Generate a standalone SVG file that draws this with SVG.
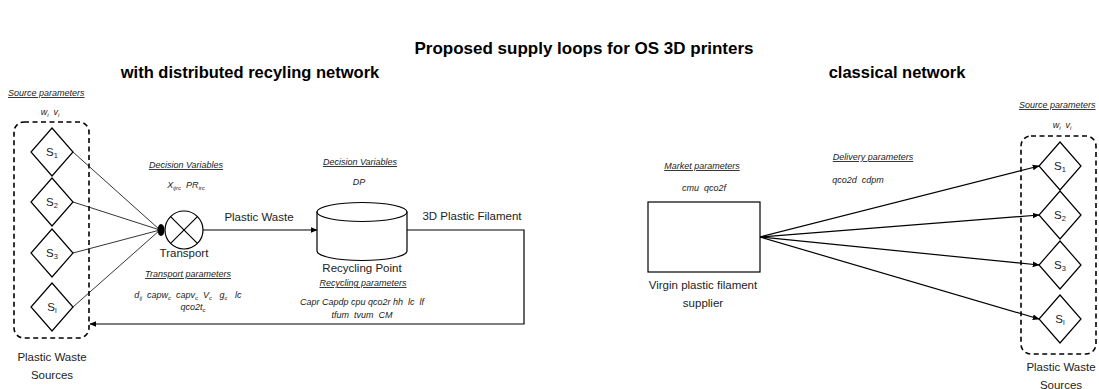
<svg xmlns="http://www.w3.org/2000/svg" width="1099" height="389" viewBox="0 0 1099 389">
<defs>
<marker id="arr" viewBox="0 0 10 10" refX="9" refY="5" markerWidth="7" markerHeight="7" orient="auto" markerUnits="userSpaceOnUse"><path d="M0,1 L10,5 L0,9 Z" fill="#000"/></marker>
<style>
text{font-family:"Liberation Sans",Arial,sans-serif;fill:#000}
.h1{font-size:17px;font-weight:bold;text-anchor:middle}
.h2{font-size:16.5px;font-weight:bold;text-anchor:middle}
.lab{font-size:11.5px;text-anchor:middle;fill:#222}
.it{font-size:9px;font-style:italic;text-anchor:middle;fill:#222;white-space:pre}
.ul{font-size:9px;font-style:italic;text-decoration:underline;text-anchor:middle;fill:#222}
.s{font-size:11.5px;text-anchor:middle;fill:#222}
.dia{fill:#fff;stroke:#000;stroke-width:1.2}
.box{fill:none;stroke:#000;stroke-width:1.6;stroke-dasharray:5,3.5}
.ln{fill:none;stroke:#000;stroke-width:0.8}
.ln2{fill:none;stroke:#000;stroke-width:1.2}
</style>
</defs>
<rect width="1099" height="389" fill="#fff"/>
<text class="h1" x="584" y="54">Proposed supply loops for OS 3D printers</text>
<text class="h2" x="250" y="78">with distributed recyling network</text>
<text class="h2" x="897" y="78">classical network</text>

<g id="left-sources">
<text class="ul" x="8" y="96" style="text-anchor:start">Source parameters</text>
<text class="it" x="50" y="115">w<tspan font-size="6" dy="1.5">i</tspan><tspan dy="-1.5">  v</tspan><tspan font-size="6" dy="1.5">i</tspan></text>
<rect class="box" x="14" y="122" width="75" height="216" rx="10"/>
<path class="dia" d="M52,128 L73,152 L52,176 L31,152 Z"/>
<text class="s" x="52" y="156">S<tspan font-size="7.5" dy="2">1</tspan></text>
<path class="dia" d="M52,178 L73,202 L52,226 L31,202 Z"/>
<text class="s" x="52" y="206">S<tspan font-size="7.5" dy="2">2</tspan></text>
<path class="dia" d="M52,229 L73,253 L52,277 L31,253 Z"/>
<text class="s" x="52" y="257">S<tspan font-size="7.5" dy="2">3</tspan></text>
<path class="dia" d="M52,283 L73,307 L52,331 L31,307 Z"/>
<text class="s" x="52" y="311">S<tspan font-size="7.5" dy="2">l</tspan></text>
<text class="lab" x="52" y="361">Plastic Waste</text>
<text class="lab" x="52" y="379">Sources</text>
</g>

<g id="connectors">
<line class="ln" x1="73" y1="152" x2="160" y2="230"/>
<line class="ln" x1="73" y1="202" x2="160" y2="230"/>
<line class="ln" x1="73" y1="253" x2="160" y2="230"/>
<line class="ln" x1="73" y1="307" x2="160" y2="230"/>
<ellipse cx="161" cy="230" rx="3.5" ry="6" fill="#000"/>
<line class="ln2" x1="203" y1="230" x2="317" y2="230" marker-end="url(#arr)"/>
<path class="ln2" d="M407,230 H524 V324 H90" marker-end="url(#arr)"/>
<line class="ln2" x1="760" y1="237" x2="1039" y2="166" marker-end="url(#arr)"/>
<line class="ln2" x1="760" y1="237" x2="1039" y2="215" marker-end="url(#arr)"/>
<line class="ln2" x1="760" y1="237" x2="1039" y2="265" marker-end="url(#arr)"/>
<line class="ln2" x1="760" y1="237" x2="1039" y2="319" marker-end="url(#arr)"/>
</g>

<g id="transport">
<text class="ul" x="186" y="168">Decision Variables</text>
<text class="it" x="186" y="188">X<tspan font-size="6" dy="1.5">ijrc</tspan><tspan dy="-1.5">  PR</tspan><tspan font-size="6" dy="1.5">irc</tspan></text>
<circle cx="184" cy="230" r="19" fill="#fff" stroke="#000" stroke-width="1.2"/>
<path class="ln2" d="M170.6,216.6 L197.4,243.4 M197.4,216.6 L170.6,243.4"/>
<text class="lab" x="184" y="257">Transport</text>
<text class="ul" x="188" y="277">Transport parameters</text>
<text class="it" x="188" y="298">d<tspan font-size="6" dy="1.5">ij</tspan><tspan dy="-1.5">  capw</tspan><tspan font-size="6" dy="1.5">c</tspan><tspan dy="-1.5">  capv</tspan><tspan font-size="6" dy="1.5">c</tspan><tspan dy="-1.5">  V</tspan><tspan font-size="6" dy="1.5">c</tspan><tspan dy="-1.5">   g</tspan><tspan font-size="6" dy="1.5">c</tspan><tspan dy="-1.5">   lc</tspan></text>
<text class="it" x="193" y="310">qco2t<tspan font-size="6" dy="1.5">c</tspan></text>
<text class="lab" x="259" y="221">Plastic Waste</text>
</g>

<g id="recycling-point">
<text class="ul" x="360" y="165">Decision Variables</text>
<text class="it" x="359" y="185">DP</text>
<path d="M317,212 L317,251 A45,9.5 0 0 0 407,251 L407,212 Z" fill="#fff" stroke="#000" stroke-width="1.2"/>
<ellipse cx="362" cy="212" rx="45" ry="9.5" fill="#fff" stroke="#000" stroke-width="1.2"/>
<text class="lab" x="362" y="272">Recycling Point</text>
<text class="ul" x="363" y="286">Recycling parameters</text>
<text class="it" x="362" y="305">Capr Capdp cpu qco2r hh  lc  lf</text>
<text class="it" x="362" y="318">tfum  tvum  CM</text>
<text class="lab" x="472" y="220">3D Plastic Filament</text>
</g>

<g id="supplier">
<text class="ul" x="702" y="169">Market parameters</text>
<text class="it" x="704" y="191">cmu  qco2f</text>
<rect x="648" y="202" width="112" height="70" fill="#fff" stroke="#000" stroke-width="1.2"/>
<text class="lab" x="703" y="289">Virgin plastic filament</text>
<text class="lab" x="703" y="307">supplier</text>
<text class="ul" x="873" y="160">Delivery parameters</text>
<text class="it" x="858" y="183">qco2d  cdpm</text>
</g>

<g id="right-sources">
<text class="ul" x="1019" y="108" style="text-anchor:start">Source parameters</text>
<text class="it" x="1062" y="128">w<tspan font-size="6" dy="1.5">i</tspan><tspan dy="-1.5">  v</tspan><tspan font-size="6" dy="1.5">i</tspan></text>
<rect class="box" x="1021" y="136" width="75" height="218" rx="10"/>
<path class="dia" d="M1060,142 L1081,166 L1060,190 L1039,166 Z"/>
<text class="s" x="1060" y="170">S<tspan font-size="7.5" dy="2">1</tspan></text>
<path class="dia" d="M1060,191 L1081,215 L1060,239 L1039,215 Z"/>
<text class="s" x="1060" y="219">S<tspan font-size="7.5" dy="2">2</tspan></text>
<path class="dia" d="M1060,241 L1081,265 L1060,289 L1039,265 Z"/>
<text class="s" x="1060" y="269">S<tspan font-size="7.5" dy="2">3</tspan></text>
<path class="dia" d="M1060,295 L1081,319 L1060,343 L1039,319 Z"/>
<text class="s" x="1060" y="323">S<tspan font-size="7.5" dy="2">l</tspan></text>
<text class="lab" x="1061" y="371">Plastic Waste</text>
<text class="lab" x="1061" y="389">Sources</text>
</g>
</svg>
